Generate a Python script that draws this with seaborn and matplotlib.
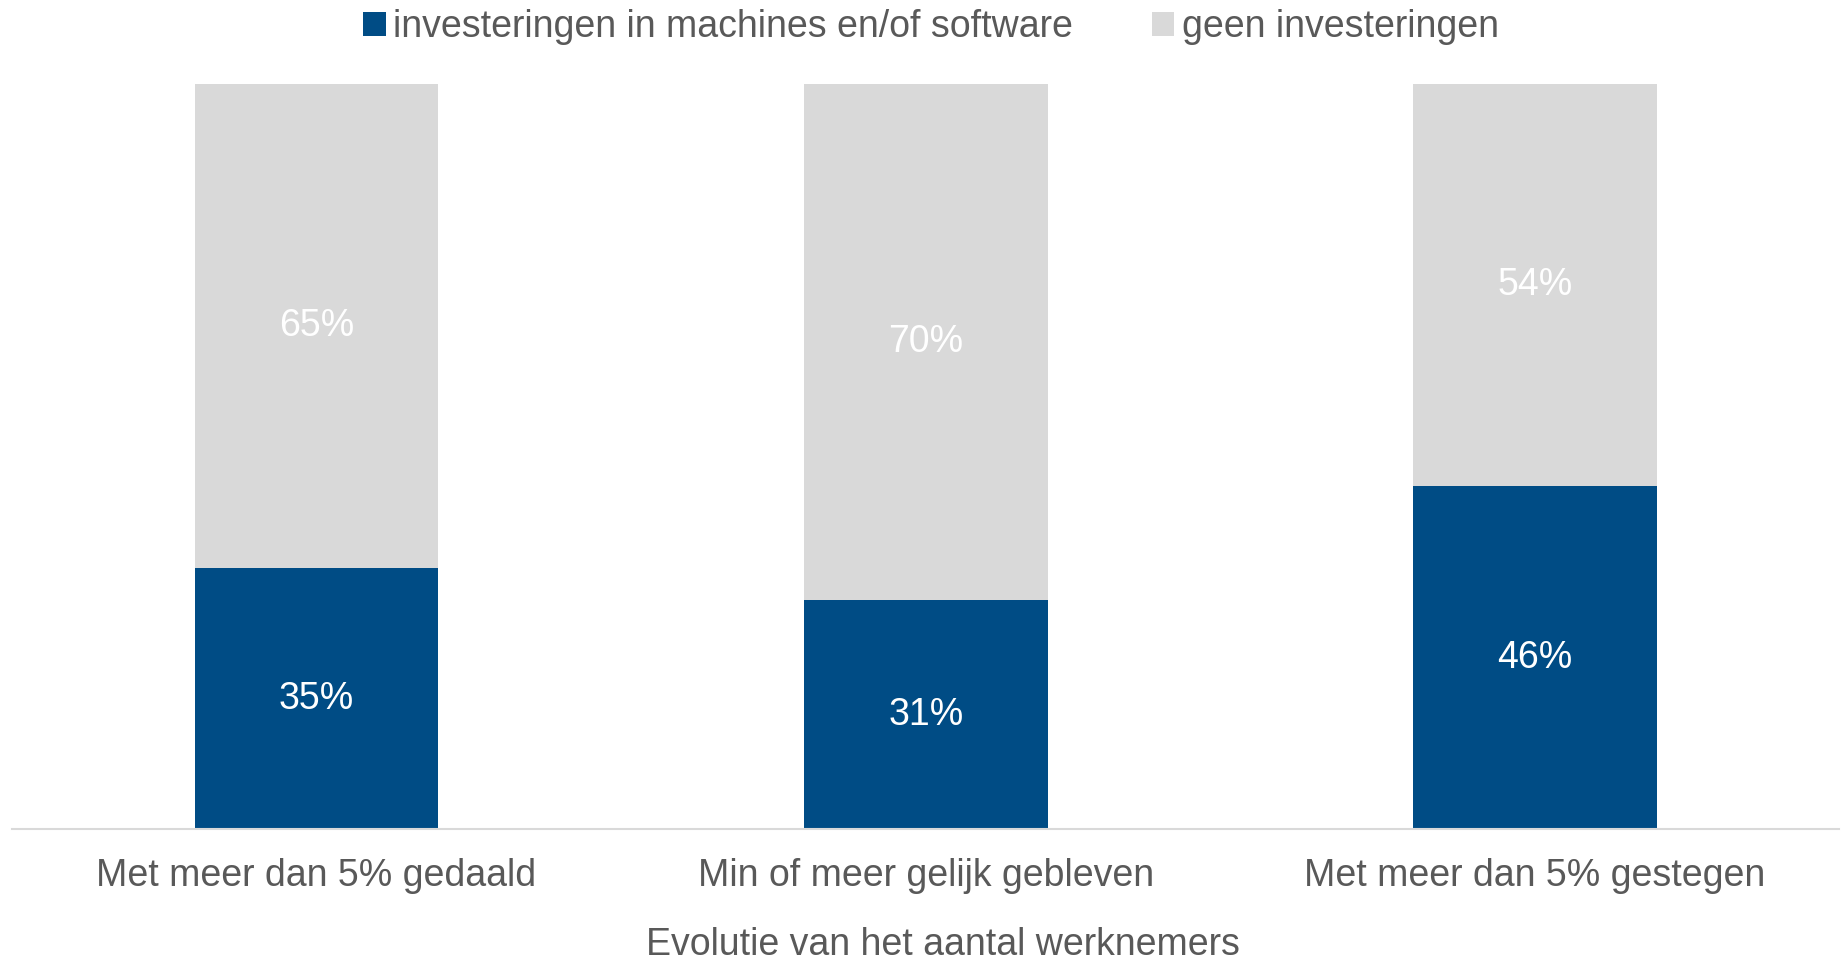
import pandas as pd
import seaborn as sns
import matplotlib.pyplot as plt

# Data
categories = ['Met meer dan 5% gedaald', 'Min of meer gelijk gebleven', 'Met meer dan 5% gestegen']
invest = [35, 31, 46]
geen = [65, 70, 54]
series_names = ['investeringen in machines en/of software', 'geen investeringen']

blue = '#004C85'
grey = '#D9D9D9'
text_col = '#595959'

sns.set_theme(style='white')
plt.rcParams['font.family'] = ['Liberation Sans', 'DejaVu Sans']

# 100% stacked: normalise each column
df = pd.DataFrame({'cat': categories, 'invest': invest, 'geen': geen})
df['total'] = df['invest'] + df['geen']
df['invest_share'] = df['invest'] / df['total']

fig = plt.figure(figsize=(18.44, 9.6), dpi=100)
ax = fig.add_axes([0.0065, 0.1365, 0.991, 0.7765])

# grey full bar first, blue part on top of it
sns.barplot(data=df, x='cat', y=[1.0] * len(df), color=grey, width=0.4,
            saturation=1, linewidth=0, ax=ax, label=series_names[1])
sns.barplot(data=df, x='cat', y='invest_share', color=blue, width=0.4,
            saturation=1, linewidth=0, ax=ax, label=series_names[0])

ax.set_xlim(-0.5, 2.5)
ax.set_ylim(0, 1)

for i, row in df.iterrows():
    s = row['invest_share']
    ax.text(i, s / 2, f"{row['invest']}%", ha='center', va='center',
            color='white', fontsize=27)
    ax.text(i, s + (1 - s) / 2, f"{row['geen']}%", ha='center', va='center',
            color='white', fontsize=27)

for sp in ['top', 'left', 'right']:
    ax.spines[sp].set_visible(False)
ax.spines['bottom'].set_color(grey)
ax.spines['bottom'].set_linewidth(1.5)
ax.set_yticks([])
ax.tick_params(axis='x', length=0, labelsize=27, labelcolor=text_col, pad=21)
ax.set_ylabel('')
ax.set_xlabel('')

# axis title sits right at the bottom edge, as in the original
fig.text(0.5115, 0.005, 'Evolutie van het aantal werknemers', ha='center',
         va='baseline', fontsize=27, color=text_col)

handles, labels = ax.get_legend_handles_labels()
order = [labels.index(n) for n in series_names]
ax.legend([handles[k] for k in order], [labels[k] for k in order],
          loc='center', bbox_to_anchor=(0.503, 1.076), ncol=2, frameon=False,
          fontsize=27, labelcolor=text_col, handlelength=0.6, handleheight=0.6,
          handletextpad=0.2, columnspacing=2.1)

fig.savefig('out.png', dpi=100)
